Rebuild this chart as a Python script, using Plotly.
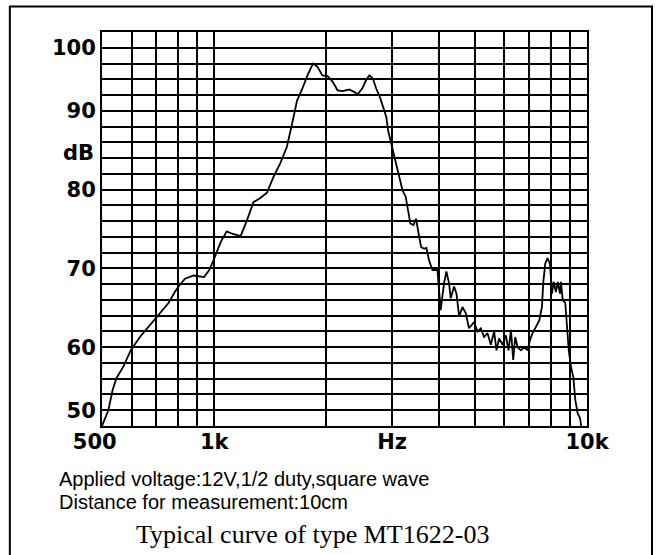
import plotly.graph_objects as go

# Frequency response
freq_hz = [500, 520, 534, 547, 570, 597, 632, 673, 715, 754, 784, 802, 835, 881, 939, 970, 995,
           1021, 1042, 1080, 1117, 1177, 1224, 1274, 1327, 1385, 1442, 1502, 1566, 1615, 1668,
           1723, 1779, 1840, 1891, 1950, 2014, 2077, 2142, 2210, 2299, 2373, 2424, 2499, 2555,
           2608, 2664, 2721, 2780, 2837, 2896, 2927, 2987, 3050, 3138, 3200, 3263, 3306, 3358,
           3423, 3480, 3520, 3590, 3659, 3709, 3770, 3850, 3970, 4050, 4135, 4197, 4265, 4310,
           4400, 4465, 4540, 4635, 4730, 4825, 4978, 5085, 5190, 5297, 5406, 5520, 5635, 5717,
           5810, 5937, 6057, 6160, 6250, 6340, 6420, 6515, 6650, 6786, 6930, 7030, 7146, 7295,
           7447, 7570, 7630, 7725, 7840, 7955, 8055, 8137, 8255, 8345, 8465, 8517, 8607, 8746,
           8822, 8935, 9060, 9190, 9303, 9440, 9578, 9656]
level_db = [50.0, 52.0, 54.6, 56.1, 57.5, 59.6, 61.3, 62.8, 64.3, 65.6, 67.0, 67.7, 68.7, 69.1, 68.9,
            69.8, 71.0, 72.3, 73.4, 74.7, 74.4, 74.1, 76.1, 78.4, 78.9, 79.6, 81.6, 83.3, 85.4,
            88.2, 91.3, 92.8, 94.5, 96.0, 95.6, 94.5, 94.4, 93.7, 92.6, 92.5, 92.7, 92.4, 92.1,
            92.9, 93.9, 94.5, 94.1, 92.8, 91.8, 90.5, 89.2, 87.5, 85.8, 83.7, 81.6, 79.9, 79.1,
            77.4, 75.7, 75.5, 76.3, 74.9, 72.7, 72.5, 72.6, 71.0, 69.8, 69.8, 64.7, 68.1, 69.6,
            68.1, 66.2, 67.7, 66.8, 63.9, 65.1, 64.3, 62.4, 63.2, 62.0, 62.4, 61.3, 61.8, 60.3,
            62.0, 59.6, 61.1, 60.3, 61.5, 59.6, 62.2, 58.4, 61.3, 60.0, 59.6, 60.0, 59.6, 60.9,
            61.8, 62.6, 63.4, 65.1, 68.1, 70.6, 71.3, 70.6, 66.8, 68.3, 67.0, 68.3, 66.8, 68.3,
            66.0, 65.6, 62.6, 59.6, 57.5, 56.2, 53.3, 51.6, 51.0, 49.9]

# Axis grid / labels
x_grid = [500, 600, 700, 800, 900, 1000, 2000, 3000, 4000, 5000, 6000, 7000, 8000, 9000, 10000]
x_labels = {500: "500\u00a0\u00a0", 1000: "1k", 3000: "Hz", 10000: "10k"}
y_grid = list(range(50, 101, 2))
y_labels = {98: "100", 90: "90", 80: "80", 70: "70", 60: "60", 52: "50"}
y_unit = "dB"
y_unit_pos = 84.6

note_lines = ["Applied voltage:12V,1/2 duty,square wave", "Distance for measurement:10cm"]
caption = "Typical curve of type MT1622-03"

fig = go.Figure()
fig.add_trace(go.Scatter(x=freq_hz, y=level_db, mode="lines",
                         line=dict(color="black", width=1.8), showlegend=False,
                         hoverinfo="skip"))

tick_font = dict(family="DejaVu Sans", size=20, color="black", weight="bold")

fig.update_layout(
    width=662, height=555,
    margin=dict(l=102, r=75, t=32, b=129),
    paper_bgcolor="white", plot_bgcolor="white",
    xaxis=dict(type="log", range=[2.69897, 4.0],
               tickmode="array", tickvals=x_grid,
               ticktext=[x_labels.get(v, "") for v in x_grid],
               showgrid=True, gridcolor="black", gridwidth=2,
               showline=True, mirror=True, linecolor="black", linewidth=2,
               ticks="", ticklabelstandoff=-4, tickfont=dict(tick_font, size=21),
               zeroline=False),
    yaxis=dict(range=[50, 100], tickmode="array", tickvals=y_grid,
               ticktext=[y_labels.get(v, "") for v in y_grid],
               showgrid=True, gridcolor="black", gridwidth=2,
               showline=True, mirror=True, linecolor="black", linewidth=2,
               ticks="", ticklabelstandoff=0, tickfont=dict(tick_font, size=21),
               zeroline=False),
)

fig.add_annotation(text=y_unit, xref="paper", yref="y", x=-0.0124, y=y_unit_pos,
                   xanchor="right", yanchor="middle", showarrow=False,
                   font=dict(tick_font, size=21))

fig.add_annotation(text=note_lines[0], xref="paper", yref="paper", x=-0.093, y=-0.1344,
                   xanchor="left", yanchor="middle", showarrow=False,
                   font=dict(family="Liberation Sans", size=20, color="black"))
fig.add_annotation(text=note_lines[1], xref="paper", yref="paper", x=-0.093, y=-0.1927,
                   xanchor="left", yanchor="middle", showarrow=False,
                   font=dict(family="Liberation Sans", size=20, color="black"))
fig.add_annotation(text=caption, xref="paper", yref="paper", x=0.433, y=-0.275,
                   xanchor="center", yanchor="middle", showarrow=False,
                   font=dict(family="Liberation Serif", size=26, color="black"))

# outer frame
fig.add_shape(type="rect", xref="paper", yref="paper",
              x0=-0.190, x1=1.134, y0=-0.36, y1=1.065,
              line=dict(color="black", width=2), fillcolor="rgba(0,0,0,0)", layer="below")

fig.write_html("out.html", config={"displayModeBar": False},
               post_script="document.body.style.margin='0';document.body.style.padding='0';")
